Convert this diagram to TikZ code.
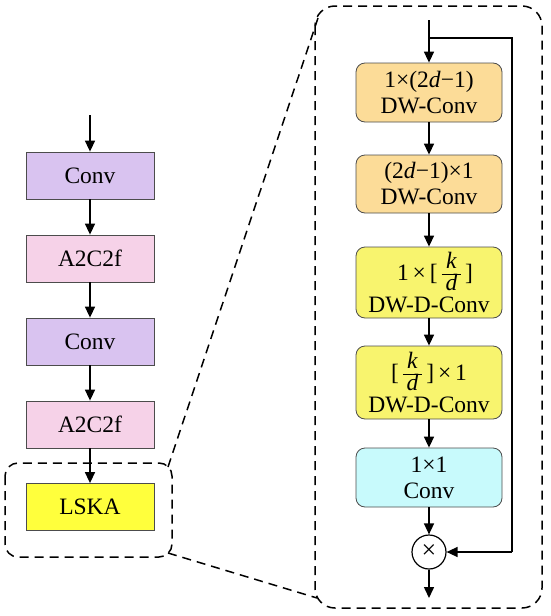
\documentclass[tikz,border=0pt]{standalone}
\usepackage{fontspec}
\setmainfont{Liberation Serif}
\usetikzlibrary{arrows.meta}
\definecolor{ungu}{RGB}{217,195,240}
\definecolor{merah}{RGB}{246,210,232}
\definecolor{kuning}{RGB}{255,255,60}
\definecolor{jingga}{RGB}{252,220,152}
\definecolor{kuningm}{RGB}{248,244,110}
\definecolor{biru}{RGB}{200,250,252}
\newcommand{\pecahan}[2]{{\renewcommand{\arraystretch}{0.74}%
  \begin{tabular}[c]{@{\,}c@{\,}}\textit{#1}\\\hline\textit{#2}\end{tabular}}}
\newcommand{\kd}{[\,\pecahan{k}{d}\,]}
\tikzset{
  kotak/.style={draw=black!70,line width=0.8pt,minimum width=128pt,minimum height=47pt,inner sep=0pt,
    font=\fontsize{23.5}{26}\selectfont},
  blok/.style={draw=black!70,line width=0.8pt,rounded corners=9pt,minimum width=146pt,inner sep=0pt,
    align=center,font=\fontsize{23.5}{26}\selectfont},
  panah/.style={line width=1.5pt,-{Triangle[length=11pt,width=10pt]}},
  garis/.style={line width=1.5pt},
  putus/.style={line width=1.5pt,dash pattern=on 9pt off 6pt}
}

\begin{document}
\begin{tikzpicture}[x=1pt,y=-1pt]
  \useasboundingbox (0,0) rectangle (550,616);
  \coordinate (in1) at (90,115);
  \coordinate (in2) at (429,20);
  \coordinate (cab) at (429,38);
  \coordinate (ka)  at (512,38);
  \coordinate (kb)  at (512,552);
  \coordinate (out) at (429,598);

  % kolom kiri
  \node[kotak,fill=ungu]   (c1) at (90,175.5) {Conv};
  \node[kotak,fill=merah]  (a1) at (90,258.5) {A2C2f};
  \node[kotak,fill=ungu]   (c2) at (90,341.5) {Conv};
  \node[kotak,fill=merah]  (a2) at (90,424.5) {A2C2f};
  \node[kotak,fill=kuning] (ls) at (90,507)   {LSKA};

  % kolom kanan
  \node[blok,fill=jingga,minimum height=59pt]  (b1) at (429,92.5)  {1×(2\textit{d}−1)\\DW-Conv};
  \node[blok,fill=jingga,minimum height=58pt]  (b2) at (429,184)   {(2\textit{d}−1)×1\\DW-Conv};
  \node[blok,fill=kuningm,minimum height=71pt] (b3) at (429,282.5) {\hspace{12pt}1\,×\,\kd\\DW-D-Conv};
  \node[blok,fill=kuningm,minimum height=73pt] (b4) at (429,382.5) {\kd\,×\,1\\DW-D-Conv};
  \node[blok,fill=biru,minimum height=59pt]    (b5) at (429,477.5) {1×1\\Conv};
  \node[draw,circle,line width=1.2pt,minimum size=34pt,inner sep=0pt,font=\fontsize{26}{26}\selectfont]
    (kali) at (429,552) {×};

  \draw[panah] (in1) -- (c1);
  \draw[panah] (c1) -- (a1);
  \draw[panah] (a1) -- (c2);
  \draw[panah] (c2) -- (a2);
  \draw[panah] (a2) -- (ls);

  \draw[panah] (in2) -- (b1);
  \draw[panah] (b1) -- (b2);
  \draw[panah] (b2) -- (b3);
  \draw[panah] (b3) -- (b4);
  \draw[panah] (b4) -- (b5);
  \draw[panah] (b5) -- (kali);
  \draw[panah] (kali) -- (out);
  \draw[garis] (cab) -- (ka) -- (kb);
  \draw[panah] (kb) -- (kali);

  % kotak putus-putus
  \draw[putus,rounded corners=13pt] (5,463) rectangle (172,557);
  \draw[putus,rounded corners=20pt] (315,6) rectangle (542,608);
  \draw[putus] (168,467) -- (318,18);
  \draw[putus] (168,553) -- (317,598);
\end{tikzpicture}
\end{document}
